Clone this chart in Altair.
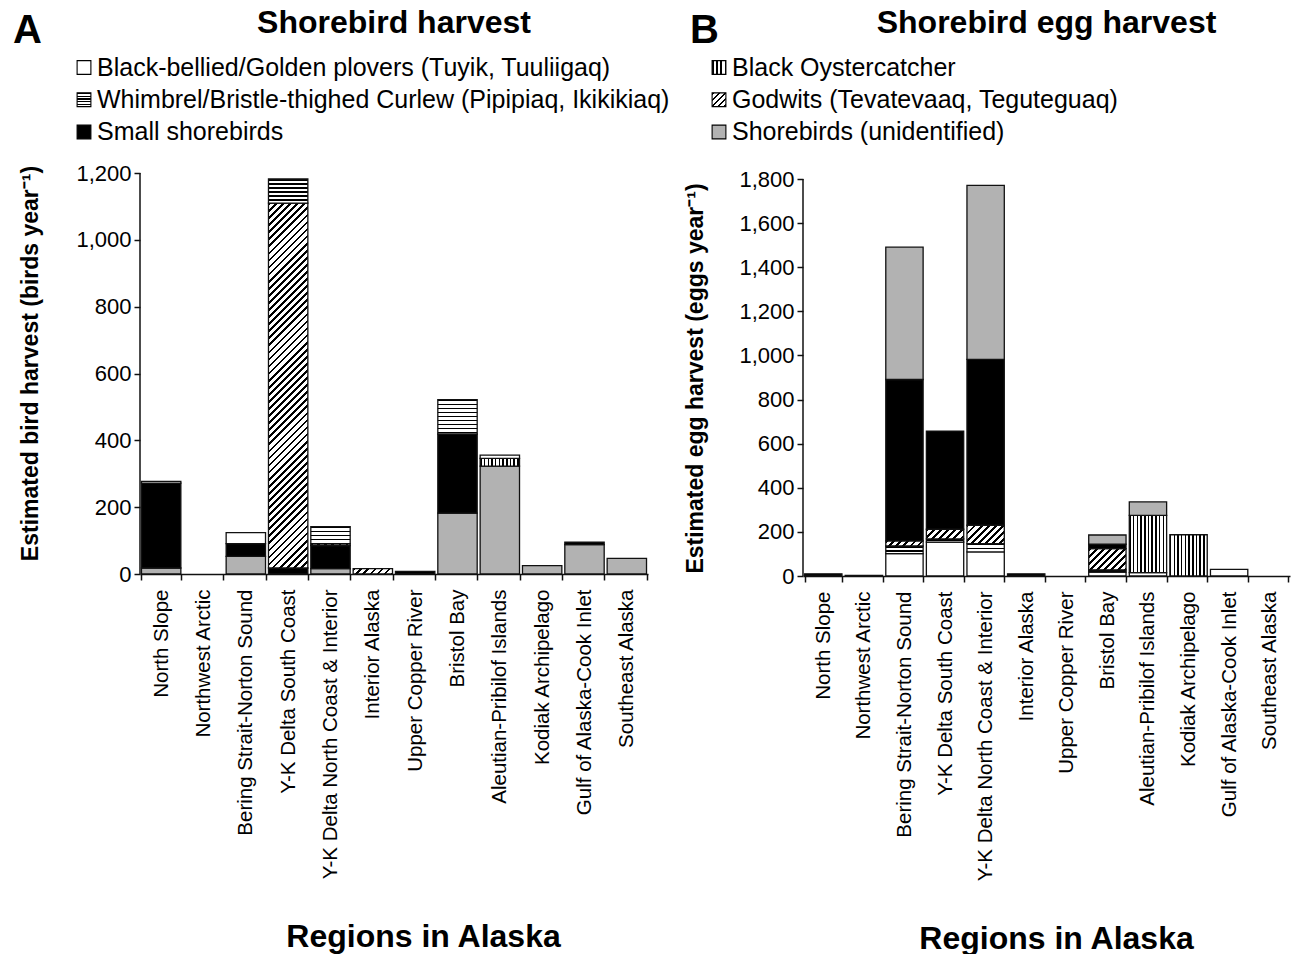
import json
import math

import altair as alt

# ---------------------------------------------------------------------------
# Data: estimated annual subsistence harvest by region and species group
# ---------------------------------------------------------------------------
REGIONS = [
    "North Slope", "Northwest Arctic", "Bering Strait-Norton Sound",
    "Y-K Delta South Coast", "Y-K Delta North Coast & Interior",
    "Interior Alaska", "Upper Copper River", "Bristol Bay",
    "Aleutian-Pribilof Islands", "Kodiak Archipelago",
    "Gulf of Alaska-Cook Inlet", "Southeast Alaska",
]

GROUP_NAMES = {
    "plover": "Black-bellied/Golden plovers (Tuyik, Tuuliigaq)",
    "whimbrel": "Whimbrel/Bristle-thighed Curlew (Pipipiaq, Ikikikiaq)",
    "small": "Small shorebirds",
    "oyster": "Black Oystercatcher",
    "godwit": "Godwits (Tevatevaaq, Teguteguaq)",
    "unid": "Shorebirds (unidentified)",
}

# Panel A: birds per year
BIRDS_PLOVER = [5, 0, 33, 0, 0, 0, 0, 0, 10, 0, 0, 0]
BIRDS_WHIMBREL = [0, 0, 0, 72, 52, 0, 0, 103, 0, 0, 0, 0]
BIRDS_OYSTER = [0, 0, 0, 0, 0, 0, 0, 0, 23, 0, 0, 0]
BIRDS_GODWIT = [0, 0, 0, 1092, 5, 16, 0, 0, 0, 0, 0, 0]
BIRDS_SMALL = [254, 0, 38, 18, 69, 0, 8, 237, 0, 0, 7, 0]
BIRDS_UNID = [18, 0, 53, 0, 16, 0, 0, 182, 323, 25, 88, 47]

# Panel B: eggs per year
EGGS_PLOVER = [0, 3, 101, 154, 109, 0, 0, 18, 15, 0, 30, 0]
EGGS_WHIMBREL = [0, 0, 35, 14, 38, 0, 0, 10, 0, 0, 0, 0]
EGGS_OYSTER = [0, 0, 0, 0, 0, 0, 0, 0, 260, 187, 0, 0]
EGGS_GODWIT = [0, 0, 23, 44, 83, 0, 0, 96, 0, 0, 0, 0]
EGGS_SMALL = [10, 0, 732, 445, 752, 10, 0, 20, 0, 0, 0, 0]
EGGS_UNID = [0, 0, 600, 0, 789, 0, 0, 42, 61, 0, 0, 0]

BIRDS = {"plover": BIRDS_PLOVER, "whimbrel": BIRDS_WHIMBREL, "oyster": BIRDS_OYSTER,
         "godwit": BIRDS_GODWIT, "small": BIRDS_SMALL, "unid": BIRDS_UNID}
EGGS = {"plover": EGGS_PLOVER, "whimbrel": EGGS_WHIMBREL, "oyster": EGGS_OYSTER,
        "godwit": EGGS_GODWIT, "small": EGGS_SMALL, "unid": EGGS_UNID}

# stacking order, bottom to top
ORDER_A = ["unid", "small", "godwit", "oyster", "whimbrel", "plover"]
ORDER_B = ["plover", "whimbrel", "oyster", "godwit", "small", "unid"]

LEGEND_A = ["plover", "whimbrel", "small"]
LEGEND_B = ["oyster", "godwit", "unid"]

FONT = "Liberation Sans"
INK = "#111111"


def stacked_rows(series, order):
    rows = []
    for rank, key in enumerate(order):
        for region, v in zip(REGIONS, series[key]):
            if v > 0:
                rows.append({"region": region, "group": key, "n": v, "rank": rank})
    return rows


# ---------------------------------------------------------------------------
# Hatched fills built from linear gradients with hard colour stops
# ---------------------------------------------------------------------------
def stripe_stops(count, ink):
    stops = []
    for i in range(count):
        a = round(i / count, 5)
        b = round((i + ink) / count, 5)
        c = round((i + 1) / count, 5)
        stops += [{"offset": a, "color": "#000"}, {"offset": b, "color": "#000"},
                  {"offset": b, "color": "#fff"}, {"offset": c, "color": "#fff"}]
    return json.dumps(stops, separators=(",", ":"))


def fill_expr(w, h, hp, vp, dp):
    """w, h: expressions for the mark's pixel width and height;
    hp, vp, dp: stripe periods (px) of the horizontal, vertical and diagonal hatches."""
    nh, nv, nd = 40, 20, 100
    hs, vs, ds = stripe_stops(nh, 0.42), stripe_stops(nv, 0.4), stripe_stops(nd, 0.38)
    c = nd * dp * math.sqrt(2)
    d2 = f"({w}*{w}+{h}*{h})"
    return (
        "datum.group === 'unid' ? '#b2b2b2' : "
        "datum.group === 'small' ? '#000000' : "
        "datum.group === 'plover' ? '#ffffff' : "
        f"datum.group === 'whimbrel' ? {{gradient:'linear',x1:0,y1:0,x2:0,y2:{nh * hp}/{h},stops:{hs}}} : "
        f"datum.group === 'oyster' ? {{gradient:'linear',x1:0,y1:0,x2:{nv * vp}/{w},y2:0,stops:{vs}}} : "
        f"{{gradient:'linear',x1:0,y1:0,x2:{c:.3f}*{w}/{d2},y2:{c:.3f}*{h}/{d2},stops:{ds}}}"
    )


# ---------------------------------------------------------------------------
# Panels
# ---------------------------------------------------------------------------
def bar_panel(series, order, width, height, ymax, top, pad_in, ytitle, ytitle_x, ytitle_y, xtitle_x):
    # `top` is the value at the upper edge of the plot (a little above the last tick in panel B)
    step = width / len(REGIONS)
    bar_w = step * (1 - pad_in)
    px = height / top
    expr = fill_expr(f"{bar_w:.3f}", f"(datum.n*{px:.5f})", 4.0, 3.7, 5.0)
    yscale = alt.Scale(domain=[0, top], nice=False)
    bars = alt.Chart(alt.Data(values=stacked_rows(series, order))).mark_bar(
        stroke=INK, strokeWidth=1.3
    ).encode(
        x=alt.X(
            "region:N",
            scale=alt.Scale(domain=REGIONS, paddingInner=pad_in, paddingOuter=pad_in / 2),
            axis=alt.Axis(
                title="Regions in Alaska", labelAngle=-90, tickBand="extent",
                labelFontSize=20.5, labelPadding=9, labelLimit=400, labelOverlap=False,
                tickSize=6, titleFontSize=32, titleFontWeight="bold",
                titleX=xtitle_x, titleY=372, titleBaseline="alphabetic", titleAlign="center",
            ),
        ),
        y=alt.Y(
            "n:Q", stack="zero", scale=yscale,
            axis=alt.Axis(
                title=ytitle, values=list(range(0, ymax + 1, 100)), domain=False,
                labelExpr="datum.value % 200 === 0 ? format(datum.value, ',') : ''",
                labelFontSize=22, labelPadding=3, tickSize=6, grid=False, labelOverlap=False,
                titleFontSize=23, titleFontWeight="bold", titleX=ytitle_x, titleY=ytitle_y,
                titleBaseline="middle", titleAlign="center", titleAngle=270,
            ),
        ),
        detail="group:N",
        order=alt.Order("rank:Q"),
        fill=alt.value({"expr": expr}),
    )
    # vertical axis line, running from 0 up to the last labelled value
    spine = alt.Chart(alt.Data(values=[{}])).mark_rule(color=INK, strokeWidth=1.5).encode(
        x=alt.value(0),
        y=alt.Y(datum=0, type="quantitative", scale=yscale),
        y2=alt.Y2(datum=ymax),
    )
    return alt.layer(bars, spine).properties(width=width, height=height)


def header(width, height, letter, title, keys, swatch_x, letter_x):
    rows = [{"group": k, "label": GROUP_NAMES[k]} for k in keys]
    labels = [GROUP_NAMES[k] for k in keys]
    yscale = alt.Scale(type="point", domain=labels, range=[67.5, 132], padding=0)
    swatch = alt.Chart(alt.Data(values=rows)).mark_square(
        size=190, stroke="#000", strokeWidth=1.1, opacity=1
    ).encode(
        x=alt.value(swatch_x),
        y=alt.Y("label:N", scale=yscale, axis=None),
        fill=alt.value({"expr": fill_expr("14", "14", 2.8, 4.2, 4.4)}),
    )
    text = alt.Chart(alt.Data(values=rows)).mark_text(
        align="left", baseline="middle", fontSize=25, font=FONT, color="#000"
    ).encode(
        x=alt.value(swatch_x + 13),
        y=alt.Y("label:N", scale=yscale, axis=None),
        text="label:N",
    )
    head = alt.Chart(alt.Data(values=[{}])).mark_text(
        text=title, fontSize=32, fontWeight="bold", font=FONT, align="center",
        baseline="alphabetic", color="#000"
    ).encode(x=alt.value(width / 2), y=alt.value(33))
    tag = alt.Chart(alt.Data(values=[{}])).mark_text(
        text=letter, fontSize=40, fontWeight="bold", font=FONT, align="left",
        baseline="alphabetic", color="#000"
    ).encode(x=alt.value(letter_x), y=alt.value(43))
    return alt.layer(swatch, text, head, tag).properties(width=width, height=height)


WA, HA = 508, 401
WB, HB = 487, 403

chart = alt.concat(
    header(WA, 160, "A", "Shorebird harvest", LEGEND_A, -56, -127),
    header(WB, 160, "B", "Shorebird egg harvest", LEGEND_B, -84, -113),
    bar_panel(BIRDS, ORDER_A, WA, HA, 1200, 1200, 0.07,
              "Estimated bird harvest (birds year⁻¹)", -110, 190, 283),
    bar_panel(EGGS, ORDER_B, WB, HB, 1800, 1800 * 403 / 397, 0.08,
              "Estimated egg harvest (eggs year⁻¹)", -108, 205, 253),
    columns=2, spacing={"row": 13, "column": 155}, bounds="flush",
).resolve_scale(
    y="independent", x="independent"
).properties(
    padding={"left": 13, "top": 0, "right": 5, "bottom": 0}
).configure(font=FONT).configure_view(stroke=None).configure_axis(
    domainColor=INK, domainWidth=1.5, tickColor=INK, tickWidth=1.5,
    labelColor="#000", titleColor="#000", labelFont=FONT, titleFont=FONT,
)

chart.save("out.html", embed_options={"renderer": "svg", "actions": False})
